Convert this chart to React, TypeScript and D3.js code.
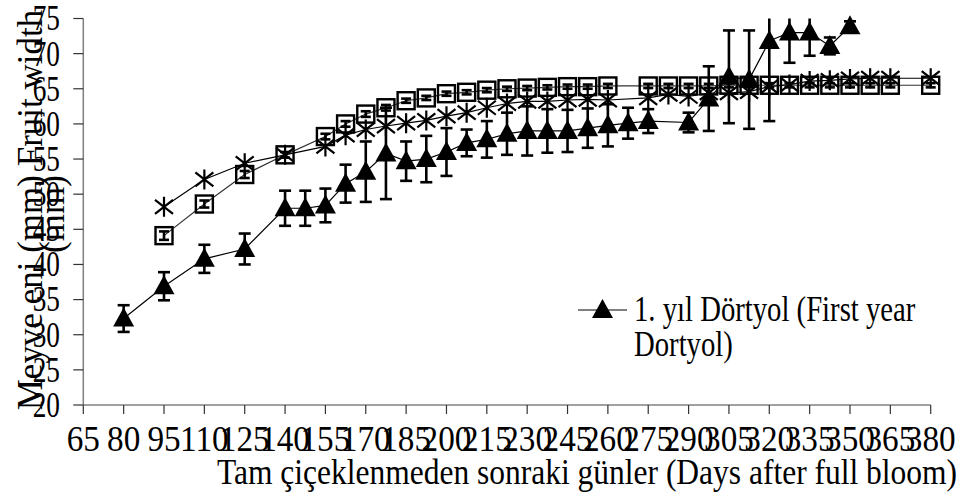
import React, { useEffect, useRef } from "react";
import * as d3 from "d3";

// 1. yıl Dörtyol (triangles)
const triDays = [80, 95, 110, 125, 140, 147.5, 155, 162.5, 170, 177.5, 185, 192.5, 200, 207.5, 215, 222.5, 230, 237.5, 245, 252.5, 260, 267.5, 275, 290, 297.5, 305, 312.5, 320, 327.5, 335, 342.5, 350];
const triMean = [32.3, 36.9, 40.8, 42.2, 48.0, 48.0, 48.4, 51.5, 53.2, 55.8, 54.7, 55.0, 56.0, 57.3, 57.8, 58.6, 59.0, 59.0, 59.0, 59.4, 59.8, 60.1, 60.4, 60.2, 63.6, 66.7, 66.3, 71.8, 73.0, 73.0, 71.1, 73.9];
const triErr = [1.9, 2.0, 2.0, 2.2, 2.5, 2.5, 2.4, 2.7, 4.3, 6.5, 2.8, 3.3, 3.4, 1.9, 2.6, 3.0, 3.5, 3.1, 3.0, 2.8, 3.0, 2.2, 1.7, 1.4, 4.6, 6.6, 7.0, 11.4, 4.3, 3.3, 1.2, 0.7];

// second series (asterisks)
const starDays = [95, 110, 125, 140, 155, 162.5, 170, 177.5, 185, 192.5, 200, 207.5, 215, 222.5, 230, 237.5, 245, 252.5, 260, 275, 282.5, 290, 297.5, 305, 312.5, 320, 327.5, 335, 342.5, 350, 357.5, 365, 380];
const starMean = [48.2, 52.1, 54.4, 55.6, 56.8, 58.4, 59.2, 59.7, 60.1, 60.5, 61.1, 61.6, 62.3, 62.9, 63.2, 63.2, 63.4, 63.5, 63.4, 63.7, 64.2, 63.9, 64.4, 64.4, 64.6, 65.3, 65.6, 66.1, 66.2, 66.4, 66.5, 66.5, 66.5];

// third series (open squares)
const sqDays = [95, 110, 125, 140, 155, 162.5, 170, 177.5, 185, 192.5, 200, 207.5, 215, 222.5, 230, 237.5, 245, 252.5, 260, 275, 282.5, 290, 297.5, 305, 312.5, 320, 327.5, 335, 342.5, 350, 357.5, 365, 380];
const sqMean = [44.1, 48.6, 52.8, 55.6, 58.2, 60.0, 61.4, 62.3, 63.3, 63.7, 64.3, 64.5, 64.8, 65.0, 65.1, 65.2, 65.3, 65.3, 65.4, 65.4, 65.4, 65.4, 65.4, 65.5, 65.5, 65.5, 65.5, 65.5, 65.5, 65.5, 65.5, 65.5, 65.5];
const sqErr = [0.6, 0.5, 0.5, 0.4, 0.4, 0.4, 0.4, 0.4, 0.3, 0.3, 0.3, 0.3, 0.3, 0.3, 0.3, 0.3, 0.3, 0.3, 0.3, 0.3, 0.3, 0.3, 0.3, 0.3, 0.3, 0.3, 0.3, 0.3, 0.3, 0.3, 0.3, 0.3, 0.3];

const xTicks = d3.range(65, 381, 15);
const yTicks = d3.range(20, 76, 5);

const yTitle = "Meyve eni (mm) Fruit width";
const yTitle2 = "(mm)";
const xTitle = "Tam çiçeklenmeden sonraki günler (Days after full bloom)";
const legendLines = ["1. yıl Dörtyol (First year", "Dortyol)"];

const FONT = "'Liberation Serif', 'Times New Roman', serif";

const App = () => {
  const svgRef = useRef<SVGSVGElement>(null);

  useEffect(() => {
    const width = 965;
    const height = 496;
    const svg = d3.select(svgRef.current).attr("width", width).attr("height", height);
    svg.selectAll("*").remove();

    const x = d3.scaleLinear().domain([65, 380]).range([83.3, 930.7]);
    const y = d3.scaleLinear().domain([20, 75]).range([405, 18.5]);

    // axes
    svg.append("line")
      .attr("x1", x(65)).attr("x2", x(380))
      .attr("y1", y(20)).attr("y2", y(20))
      .attr("stroke", "#808080").attr("stroke-width", 1.5);
    svg.append("line")
      .attr("x1", x(65)).attr("x2", x(65))
      .attr("y1", y(20)).attr("y2", y(75))
      .attr("stroke", "#808080").attr("stroke-width", 1.5);

    svg.append("g").selectAll("line").data(xTicks).enter().append("line")
      .attr("x1", (d) => x(d)).attr("x2", (d) => x(d))
      .attr("y1", y(20)).attr("y2", y(20) + 9)
      .attr("stroke", "#333").attr("stroke-width", 1.2);
    svg.append("g").selectAll("line").data(yTicks).enter().append("line")
      .attr("x1", x(65) - 10).attr("x2", x(65))
      .attr("y1", (d) => y(d)).attr("y2", (d) => y(d))
      .attr("stroke", "#333").attr("stroke-width", 1.2);

    // tick labels
    svg.append("g").selectAll("text").data(yTicks).enter().append("text")
      .attr("transform", (d) => `translate(60,${y(d)}) scale(0.78,1)`)
      .attr("dy", "0.34em")
      .attr("text-anchor", "end")
      .attr("font-family", FONT).attr("font-size", 35)
      .text((d) => d);
    svg.append("g").selectAll("text").data(xTicks).enter().append("text")
      .attr("transform", (d) => `translate(${x(d)},451) scale(0.95,1)`)
      .attr("text-anchor", "middle")
      .attr("font-family", FONT).attr("font-size", 35)
      .text((d) => d);

    // axis titles
    svg.append("text")
      .attr("transform", "translate(587,484) scale(0.9,1)")
      .attr("text-anchor", "middle")
      .attr("font-family", FONT).attr("font-size", 35)
      .text(xTitle);
    svg.append("text")
      .attr("transform", "translate(42,210) rotate(-90)")
      .attr("text-anchor", "middle")
      .attr("font-family", FONT).attr("font-size", 35)
      .text(yTitle);
    svg.append("text")
      .attr("transform", "translate(64,214) rotate(-90)")
      .attr("text-anchor", "middle")
      .attr("font-family", FONT).attr("font-size", 35)
      .text(yTitle2);

    const line = d3.line<[number, number]>().x((d) => x(d[0])).y((d) => y(d[1]));
    const clampY = (v: number) => y(Math.min(75, Math.max(20, v)));

    const errorBars = (days: number[], mean: number[], err: number[], cap: number) => {
      const g = svg.append("g").attr("stroke", "#000").attr("stroke-width", 2.6);
      days.forEach((d, i) => {
        const top = clampY(mean[i] + err[i]);
        const bot = clampY(mean[i] - err[i]);
        g.append("line").attr("x1", x(d)).attr("x2", x(d)).attr("y1", top).attr("y2", bot);
        if (mean[i] + err[i] <= 75) {
          g.append("line").attr("x1", x(d) - cap).attr("x2", x(d) + cap).attr("y1", top).attr("y2", top);
        }
        g.append("line").attr("x1", x(d) - cap).attr("x2", x(d) + cap).attr("y1", bot).attr("y2", bot);
      });
    };

    // squares series
    svg.append("path")
      .datum(sqDays.map((d, i) => [d, sqMean[i]] as [number, number]))
      .attr("fill", "none").attr("stroke", "#333").attr("stroke-width", 1.2)
      .attr("d", line);
    errorBars(sqDays, sqMean, sqErr, 5);
    svg.append("g").selectAll("rect").data(sqDays).enter().append("rect")
      .attr("x", (d) => x(d) - 8.5).attr("y", (d, i) => y(sqMean[i]) - 8.5)
      .attr("width", 17).attr("height", 17)
      .attr("fill", "none").attr("stroke", "#000").attr("stroke-width", 2.4);

    // asterisk series
    svg.append("path")
      .datum(starDays.map((d, i) => [d, starMean[i]] as [number, number]))
      .attr("fill", "none").attr("stroke", "#000").attr("stroke-width", 1.2)
      .attr("d", line);
    const star = "M0,-10L0,10M-9,-7L9,7M-9,7L9,-7";
    svg.append("g").selectAll("path").data(starDays).enter().append("path")
      .attr("transform", (d, i) => `translate(${x(d)},${y(starMean[i])})`)
      .attr("d", star)
      .attr("fill", "none").attr("stroke", "#000").attr("stroke-width", 2.2);

    // triangle series
    svg.append("path")
      .datum(triDays.map((d, i) => [d, triMean[i]] as [number, number]))
      .attr("fill", "none").attr("stroke", "#000").attr("stroke-width", 1.2)
      .attr("d", line);
    errorBars(triDays, triMean, triErr, 6);
    const tri = "M0,-11L10.5,8L-10.5,8Z";
    svg.append("g").selectAll("path").data(triDays).enter().append("path")
      .attr("transform", (d, i) => `translate(${x(d)},${y(triMean[i])})`)
      .attr("d", tri)
      .attr("fill", "#000");

    // legend
    const lg = svg.append("g").attr("transform", "translate(578,310)");
    lg.append("line").attr("x1", 0).attr("x2", 49).attr("y1", 0).attr("y2", 0)
      .attr("stroke", "#000").attr("stroke-width", 1.2);
    lg.append("path").attr("transform", "translate(24.5,0)").attr("d", tri).attr("fill", "#000");
    legendLines.forEach((t, i) => {
      lg.append("text")
        .attr("transform", `translate(56,${11 + i * 35}) scale(0.82,1)`)
        .attr("font-family", FONT).attr("font-size", 35)
        .text(t);
    });
  }, []);

  return (
    <div style={{ position: "absolute", left: 0, top: 0 }}>
      <svg ref={svgRef}></svg>
    </div>
  );
};

export default App;
